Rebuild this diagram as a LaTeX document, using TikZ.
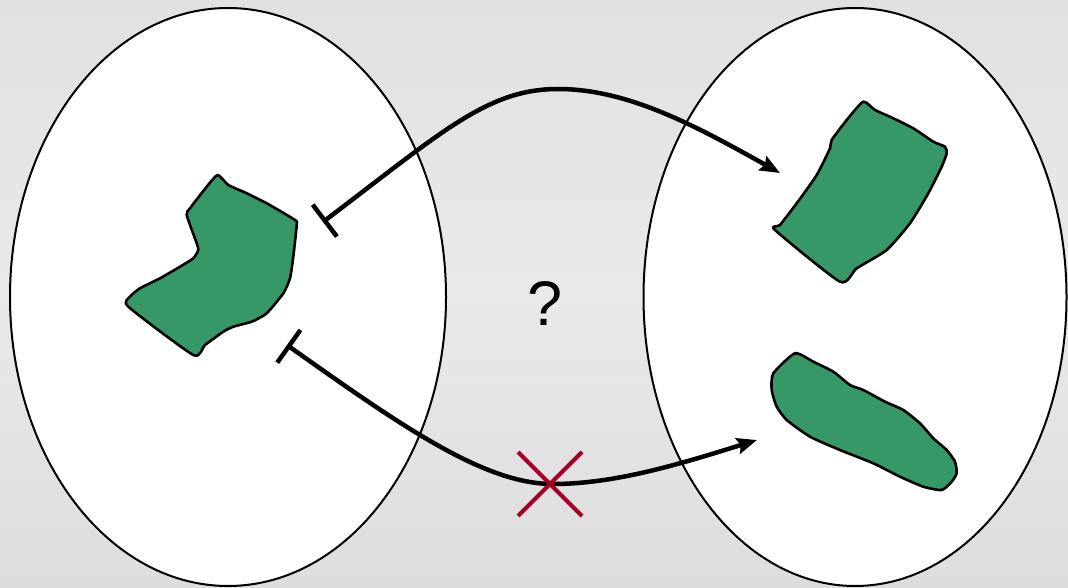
\documentclass[tikz,border=0pt]{standalone}
\usepackage{fontspec}
\setmainfont{Liberation Sans}
\usetikzlibrary{arrows.meta,shapes.geometric}
\definecolor{blobgreen}{RGB}{55,152,103}
\definecolor{crossred}{RGB}{165,0,35}
\definecolor{bgtop}{RGB}{217,217,217}
\definecolor{bgmid}{RGB}{233,233,233}
\definecolor{bgbottom}{RGB}{209,209,209}
\pgfdeclareverticalshading{backdrop}{100bp}{%
  color(0bp)=(bgbottom); color(50bp)=(bgmid); color(100bp)=(bgtop)}
\begin{document}
\begin{tikzpicture}[x=1pt,y=-1pt,
  set/.style={draw=black,line width=2pt,fill=white,ellipse,inner sep=0pt},
  blob/.style={draw=black,line width=2.6pt,fill=blobgreen,line join=round},
  map/.style={line width=4.5pt,
    {Bar[width=40pt]}-{Stealth[length=20pt,width=16pt,inset=3pt]}},
  cross/.style={draw=crossred,line width=4.2pt}
]
% canvas and background gradient
\useasboundingbox (0,0) rectangle (1068,588);
\shade[shading=backdrop] (0,0) rectangle (1068,588);

% the two sets
\node[set,minimum width=436pt,minimum height=578pt] (dom) at (228,297) {};
\node[set,minimum width=423pt,minimum height=578pt] (cod) at (855,297) {};

% region in the left set
\filldraw[blob] plot[smooth cycle,tension=0.35] coordinates {
  (217.7,175) (228.3,185) (246.7,193.3) (266.7,203.3) (295,220) (296.7,225)
  (293.3,256.7) (290,278.3) (283.3,293.3) (266.7,313.3) (251.7,321.7)
  (233.3,326.7) (223.3,331.7) (205,345) (193.3,355) (128.3,306.7)
  (130,296.7) (140,288.3) (160,278.3) (180,266.7) (193.3,258.3)
  (198.3,250) (196.7,243.3) (186.7,215) (190,208.3) (206.7,186.7)};

% upper region in the right set
\filldraw[blob] plot[smooth cycle,tension=0.35] coordinates {
  (863.3,101.7) (875,110) (893.3,118.3) (913.3,128.3) (933.3,141.7)
  (945,146.7) (946.7,153.3) (941.7,166.7) (928.3,193.3) (910,223.3)
  (886.7,250) (856.7,268.3) (840,281.7) (775,230) (780,225)
  (796.7,203.3) (816.7,175) (830,148.3) (831.7,140) (846.7,120)};

% lower region in the right set
\filldraw[blob] plot[smooth cycle,tension=0.35] coordinates {
  (795,353.3) (813.3,361.7) (833.3,371.7) (850,385) (863.3,390)
  (885,401.7) (903.3,410) (920,423.3) (933.3,438.3) (946.7,450)
  (955,461.7) (956.7,473.3) (951.7,481.7) (941.7,490) (923.3,486.7)
  (900,476.7) (873.3,463.3) (840,450) (810,436.7) (786.7,420)
  (776.7,406.7) (771.7,390) (773.3,373.3)};

% question mark between the sets
\node[font=\fontsize{63}{63}\selectfont,inner sep=0pt] (q) at (545,304) {?};

% ends of the two mappings
\coordinate (s1) at (323,222);
\coordinate (m1) at (558,89);
\coordinate (t1) at (780,173);
\coordinate (s2) at (287,345);
\coordinate (m2) at (553,484);
\coordinate (t2) at (757,440);

\draw[map] (s1) .. controls (443,131) and (488,89) .. (m1)
  .. controls (628,89) and (696,126) .. (t1);
\draw[map] (s2) .. controls (404,428) and (485,484) .. (m2)
  .. controls (615,484) and (680,464) .. (t2);

% the crossed-out mapping
\coordinate (x) at (550,484);
\draw[cross] ([shift={(-32,-32)}]x) -- ([shift={(32,32)}]x);
\draw[cross] ([shift={(32,-32)}]x) -- ([shift={(-32,32)}]x);
\end{tikzpicture}
\end{document}
